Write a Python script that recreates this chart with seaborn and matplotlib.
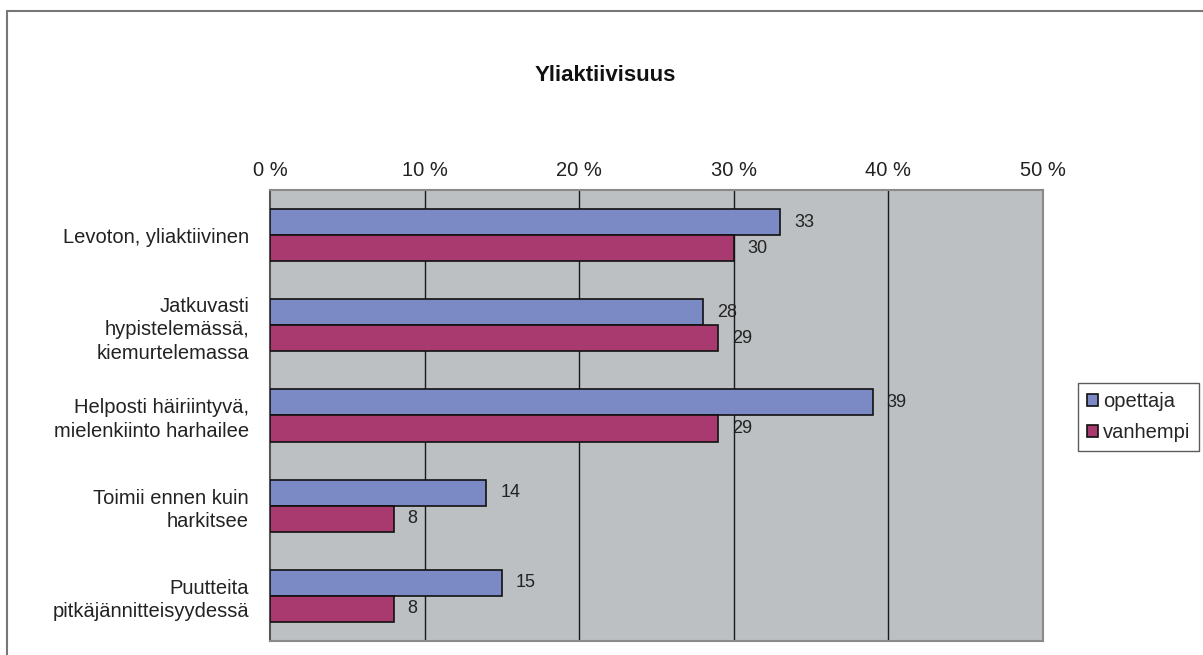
import numpy as np
import pandas as pd
import seaborn as sns
import matplotlib.pyplot as plt
from matplotlib.patches import Rectangle
from matplotlib.ticker import FuncFormatter

categories = ['Levoton, yliaktiivinen',
              'Jatkuvasti\nhypistelemässä,\nkiemurtelemassa',
              'Helposti häiriintyvä,\nmielenkiinto harhailee',
              'Toimii ennen kuin\nharkitsee',
              'Puutteita\npitkäjännitteisyydessä']
opettaja = [33, 28, 39, 14, 15]
vanhempi = [30, 29, 29, 8, 8]
series = ['opettaja', 'vanhempi']

df = pd.DataFrame({
    'kategoria': categories * 2,
    'arvo': opettaja + vanhempi,
    'ryhma': ['opettaja'] * 5 + ['vanhempi'] * 5,
})

sns.set_style('white')
plt.rcParams['font.family'] = ['Liberation Sans', 'DejaVu Sans']

fig = plt.figure(figsize=(12.03, 6.55), dpi=100)
ax = fig.add_axes([0.2244, 0.0214, 0.6426, 0.6885])
ax.set_facecolor('#BCC0C2')

colors = ['#7B89C5', '#A83A70']
sns.barplot(data=df, y='kategoria', x='arvo', hue='ryhma', orient='h',
            palette=colors, saturation=1, width=0.58, edgecolor='#111111',
            linewidth=1.2, ax=ax, zorder=3)

for c in ax.containers:
    ax.bar_label(c, fmt='%d', padding=10, fontsize=13, color='#222222')

ax.set_xlim(0, 50)
ax.set_ylim(4.5, -0.5)
ax.set_xticks([0, 10, 20, 30, 40, 50])
ax.xaxis.set_major_formatter(FuncFormatter(lambda v, p: f'{int(v)} %'))
ax.xaxis.tick_top()
ax.tick_params(axis='x', labelsize=14.5, length=0, pad=7, colors='#222222')
ax.set_xlabel('')
ax.set_ylabel('')
for x in [10, 20, 30, 40]:
    ax.axvline(x, color='#1a1a1a', lw=1, zorder=1)

ax.set_yticks(range(5))
ax.set_yticklabels(categories, fontsize=14.5, color='#222222', ha='right',
                   multialignment='right', linespacing=1.3)
ax.tick_params(axis='y', length=0, pad=15)
ax.set_yticks(np.arange(-0.5, 5, 1), minor=True)
ax.tick_params(axis='y', which='minor', length=6, width=1, color='#555555', direction='out')

for s in ['top', 'bottom', 'right']:
    ax.spines[s].set_color('#8a8a8a')
    ax.spines[s].set_linewidth(1.5)
ax.spines['left'].set_color('#555555')
ax.spines['left'].set_linewidth(1.5)

ax.legend_.remove()
handles = [Rectangle((0, 0), 1, 1, facecolor=col, edgecolor='#111111', lw=1.2)
           for col in colors]
leg = fig.legend(handles, series, loc='upper left', bbox_to_anchor=(0.896, 0.415),
                 frameon=True, fancybox=False, fontsize=14.5, handlelength=0.55,
                 handleheight=0.55, handletextpad=0.25, borderpad=0.45,
                 labelspacing=0.6, borderaxespad=0)
leg.get_frame().set_edgecolor('#333333')
leg.get_frame().set_linewidth(1)

fig.text(0.503, 0.885, 'Yliaktiivisuus', ha='center', va='center',
         fontsize=16, fontweight='bold', color='#111111')

fig.patches.append(Rectangle((7 / 1203, -0.1), 1.2, 1 - 11 / 655 + 0.1,
                             transform=fig.transFigure, fill=False,
                             edgecolor='#777777', lw=1.5))

fig.savefig('out.png', dpi=100)
